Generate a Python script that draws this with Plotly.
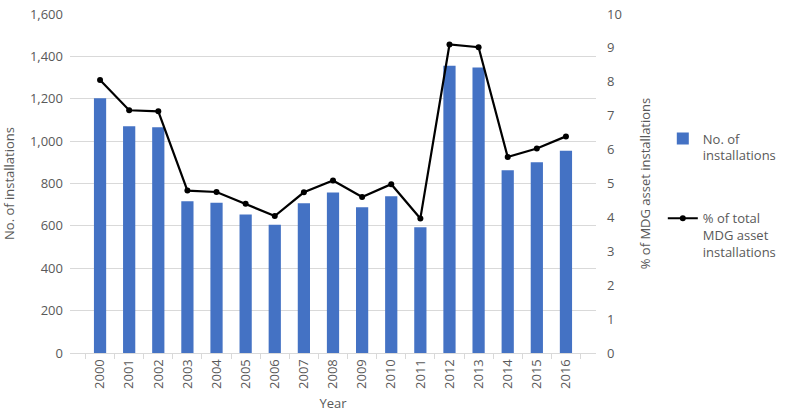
import plotly.graph_objects as go

years = [str(y) for y in range(2000, 2017)]
installations = [1202, 1070, 1065, 716, 709, 654, 605, 707, 758, 688, 740, 594, 1356, 1347, 862, 900, 955]
pct_total = [8.05, 7.16, 7.13, 4.79, 4.75, 4.40, 4.04, 4.74, 5.09, 4.60, 4.98, 3.97, 9.10, 9.02, 5.78, 6.03, 6.39]

font_fam = "Open Sans, Noto Sans, sans-serif"
gray = "#595959"

fig = go.Figure()
fig.add_trace(go.Bar(
    x=years, y=installations, name="No. of<br>installations", legendgroup="a",
    marker=dict(color="#4472C4", line=dict(width=0)), width=0.42,
))
fig.add_trace(go.Scatter(
    x=years, y=pct_total, name="% of total<br>MDG asset<br>installations", legendgroup="b",
    yaxis="y2", mode="lines+markers",
    line=dict(color="black", width=2.2), marker=dict(color="black", size=6),
))

fig.update_layout(
    width=789, height=414,
    margin=dict(l=70, r=193, t=14, b=61, autoexpand=False),
    paper_bgcolor="white", plot_bgcolor="white",
    font=dict(family=font_fam, size=13, color=gray),
    showlegend=True,
    legend=dict(x=1.127, y=0.677, xanchor="left", yanchor="top", valign="top",
                font=dict(size=13, color=gray), tracegroupgap=43,
                itemwidth=30, bgcolor="rgba(0,0,0,0)"),
    xaxis=dict(type="category", tickangle=-90, ticks="outside", tickson="boundaries",
               ticklen=5, tickcolor="#d9d9d9", showline=True, linecolor="#d9d9d9",
               linewidth=1, showgrid=False, automargin=False,
               title=dict(text="Year", font=dict(size=13, color=gray), standoff=10),
               tickfont=dict(size=13, color=gray)),
    yaxis=dict(range=[0, 1600], dtick=200, tickformat=",", showgrid=True,
               gridcolor="#d9d9d9", gridwidth=1, zeroline=False, showline=False,
               automargin=False,
               title=dict(text="No. of installations", font=dict(size=13, color=gray), standoff=12),
               tickfont=dict(size=13, color=gray), ticks="", ticklabelstandoff=6),
    yaxis2=dict(range=[0, 10], dtick=1, overlaying="y", side="right", showgrid=False,
                zeroline=False, showline=False, automargin=False,
                title=dict(text="% of MDG asset installations", font=dict(size=13, color=gray), standoff=20),
                tickfont=dict(size=13, color=gray), ticklabelstandoff=10),
)

fig.write_html("out.html")
